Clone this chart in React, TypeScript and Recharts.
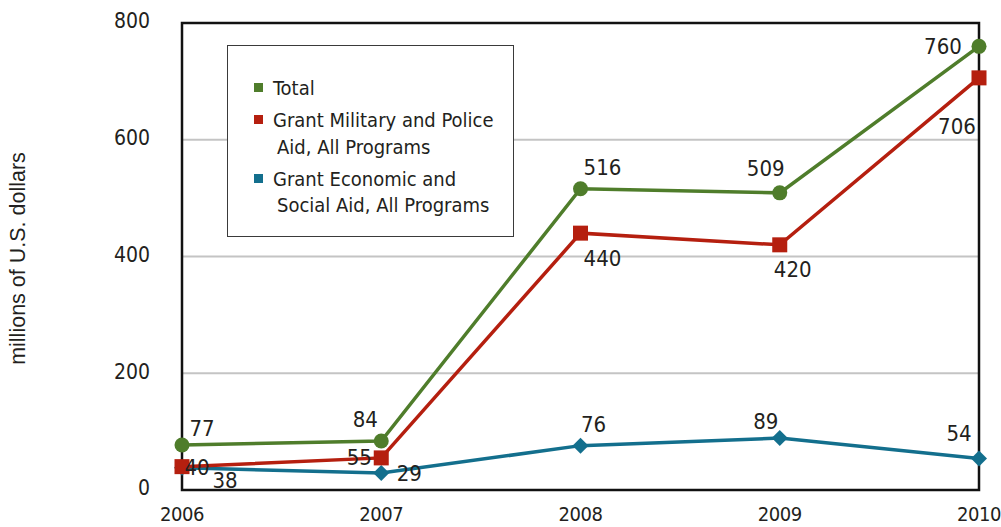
import React from 'react';
import { LineChart, Line, XAxis, YAxis, CartesianGrid, ReferenceArea, Label } from 'recharts';

const years = ['2006', '2007', '2008', '2009', '2010'];
const totalValues = [77, 84, 516, 509, 760];
const militaryValues = [40, 55, 440, 420, 706];
const economicValues = [38, 29, 76, 89, 54];
const yTicks = [0, 200, 400, 600, 800];

// label offsets (dx, dy) from each point, for the value labels
const totalOffsets = [[20, -17], [-16, -21], [22, -21], [-14, -24], [-36, 0]];
const militaryOffsets = [[15, 1], [-22, 0], [22, 25], [13, 25], [-22, 49]];
const economicOffsets = [[43, 13], [28, 0], [13, -21], [-14, -17], [-20, -25]];

const GREEN = '#4f7d2b';
const RED = '#b51f0f';
const TEAL = '#136f8d';
const TEXT = '#231f20';
const COND = "'Liberation Sans Narrow', 'DejaVu Sans Condensed', 'Arial Narrow', sans-serif";

const data = years.map((y, i) => ({
  year: y,
  total: totalValues[i],
  military: militaryValues[i],
  economic: economicValues[i],
}));

const makeLabel = (offsets: number[][], values: number[]) => (p: any) => {
  let idx = typeof p.index === 'number' ? p.index : values.indexOf(Number(p.value));
  if (idx < 0) idx = 0;
  const [dx, dy] = offsets[idx];
  return (
    <text
      key={`l${idx}`}
      x={p.x + dx}
      y={p.y + dy}
      textAnchor="middle"
      dominantBaseline="central"
      fontFamily={COND}
      fontSize={22}
      fill={TEXT}
    >
      {p.value}
    </text>
  );
};

const CircleDot = (p: any) => <circle key={`c${p.index}`} cx={p.cx} cy={p.cy} r={7.5} fill={GREEN} />;
const SquareDot = (p: any) => <rect key={`s${p.index}`} x={p.cx - 7.5} y={p.cy - 7.5} width={15} height={15} fill={RED} />;
const DiamondDot = (p: any) => (
  <polygon
    key={`d${p.index}`}
    points={`${p.cx},${p.cy - 8} ${p.cx + 8},${p.cy} ${p.cx},${p.cy + 8} ${p.cx - 8},${p.cy}`}
    fill={TEAL}
  />
);

const legendItems = [
  { color: GREEN, lines: ['Total'] },
  { color: RED, lines: ['Grant Military and Police', 'Aid, All Programs'] },
  { color: TEAL, lines: ['Grant Economic and', 'Social Aid, All Programs'] },
];

const LegendBox = () => (
  <div
    style={{
      position: 'absolute',
      left: 227,
      top: 45,
      width: 287,
      height: 192,
      boxSizing: 'border-box',
      border: '1.5px solid #3a3a3a',
      background: '#fff',
      paddingTop: 29,
      fontFamily: COND,
      fontSize: 20,
      color: TEXT,
      lineHeight: '26.7px',
    }}
  >
    {legendItems.map((it, i) => (
      <div key={i} style={{ position: 'relative', paddingLeft: 45, marginTop: i === 0 ? 0 : 5.3 }}>
        <span
          style={{
            position: 'absolute',
            left: 26,
            top: 8,
            width: 9,
            height: 9,
            background: it.color,
          }}
        />
        {it.lines.map((ln, j) => (
          <div key={j} style={{ paddingLeft: j === 0 ? 0 : 4, whiteSpace: 'nowrap' }}>
            {ln}
          </div>
        ))}
      </div>
    ))}
  </div>
);

const YTitle = (props: any) => {
  const vb = props.viewBox || { x: 0, y: 23, width: 182, height: 467 };
  const cx = vb.x + 18;
  const cy = vb.y + vb.height / 2 + 2;
  return (
    <text
      x={cx}
      y={cy}
      transform={`rotate(-90, ${cx}, ${cy})`}
      textAnchor="middle"
      dominantBaseline="central"
      fontFamily="'Liberation Sans', Arial, sans-serif"
      fontSize={21.5}
      fill={TEXT}
    >
      millions of U.S. dollars
    </text>
  );
};

export default function App() {
  return (
    <div style={{ position: 'absolute', left: 0, top: 0, width: 1001, height: 527, background: '#fff' }}>
      <LineChart width={1001} height={527} data={data} margin={{ top: 23, right: 22, bottom: 0, left: 0 }}>
        <CartesianGrid vertical={false} stroke="#c4c4c4" strokeWidth={2} />
        <XAxis
          dataKey="year"
          height={37}
          axisLine={false}
          tickLine={false}
          tickSize={0}
          tickMargin={17}
          interval={0}
          tick={{ fontFamily: COND, fontSize: 20, fill: TEXT, letterSpacing: -0.4 }}
        />
        <YAxis
          width={182}
          domain={[0, 800]}
          ticks={yTicks}
          axisLine={false}
          tickLine={false}
          tickSize={0}
          tickMargin={32}
          tick={{ fontFamily: COND, fontSize: 21, fill: TEXT, dy: -2 }}
        >
          <Label content={<YTitle />} position="left" />
        </YAxis>
        <ReferenceArea x1="2006" x2="2010" y1={0} y2={800} fill="none" stroke="#111" strokeWidth={2.5} />
        <Line
          type="linear"
          dataKey="economic"
          stroke={TEAL}
          strokeWidth={3.5}
          dot={<DiamondDot />}
          activeDot={false}
          label={makeLabel(economicOffsets, economicValues)}
          isAnimationActive={false}
        />
        <Line
          type="linear"
          dataKey="military"
          stroke={RED}
          strokeWidth={3.5}
          dot={<SquareDot />}
          activeDot={false}
          label={makeLabel(militaryOffsets, militaryValues)}
          isAnimationActive={false}
        />
        <Line
          type="linear"
          dataKey="total"
          stroke={GREEN}
          strokeWidth={3.5}
          dot={<CircleDot />}
          activeDot={false}
          label={makeLabel(totalOffsets, totalValues)}
          isAnimationActive={false}
        />
      </LineChart>
      <LegendBox />
    </div>
  );
}
